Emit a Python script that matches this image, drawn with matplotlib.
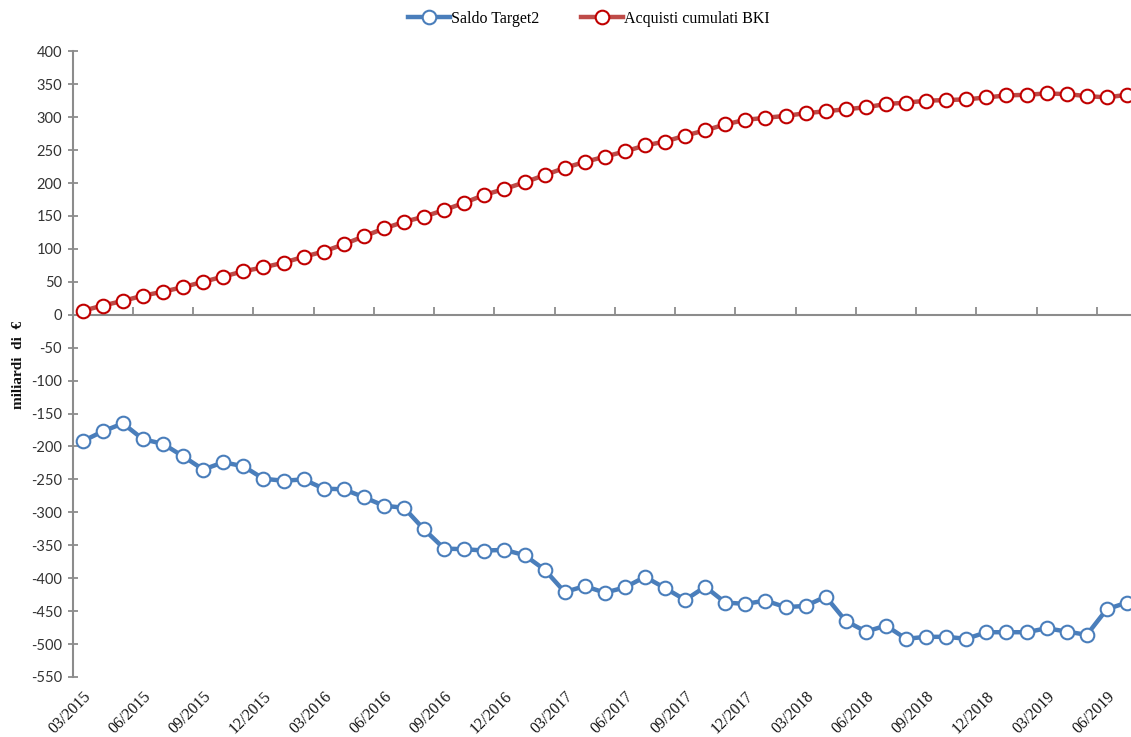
import matplotlib
matplotlib.use("Agg")
import matplotlib.pyplot as plt
import numpy as np

# Monthly observations, 03/2015 .. 07/2019 (billions of euro)
months = [f"{m:02d}/{y}" for y in range(2015, 2020) for m in range(1, 13)][2:55]

saldo_target2 = [
    -192, -177, -165, -189, -196, -215, -235, -224, -230, -249,
    -252, -250, -264, -265, -277, -290, -293, -326, -355, -356,
    -358, -357, -365, -387, -421, -412, -422, -414, -398, -415,
    -433, -413, -437, -439, -434, -444, -442, -428, -465, -481,
    -472, -492, -489, -489, -492, -482, -482, -482, -476, -481,
    -486, -447, -437,
]

acquisti_bki = [
    6, 14, 21, 29, 35, 42, 50, 58, 66, 72,
    79, 88, 96, 107, 119, 131, 141, 149, 159, 170,
    182, 191, 201, 212, 223, 232, 240, 248, 257, 263,
    272, 280, 289, 296, 299, 302, 306, 309, 312, 315,
    320, 322, 325, 326, 327, 330, 333, 334, 336, 335,
    332, 330, 334,
]

y_ticks = list(range(-550, 401, 50))

BLUE = "#4A7EBB"
RED_LINE = "#BE4B48"
RED_EDGE = "#C00000"
AXIS_GRAY = "#8C8C8C"

W, H, DPI = 1131, 737, 100
fig = plt.figure(figsize=(W / DPI, H / DPI), dpi=DPI)

left = 72.7 / W
right = 1137.0 / W
top = 1 - 51.3 / H
bottom = 1 - 677.0 / H
ax = fig.add_axes([left, bottom, right - left, top - bottom])

x = np.arange(len(months))

ax.plot(x, saldo_target2, color=BLUE, lw=3.2, marker="o", ms=9.8,
        mfc="white", mec=BLUE, mew=1.5, label="Saldo Target2",
        solid_joinstyle="round", zorder=3)
ax.plot(x, acquisti_bki, color=RED_LINE, lw=3.2, marker="o", ms=9.8,
        mfc="white", mec=RED_EDGE, mew=1.5, label="Acquisti cumulati BKI",
        solid_joinstyle="round", zorder=3)

ax.set_xlim(-0.5, len(months) - 0.5)
ax.set_ylim(-550, 400)

# y axis
for s in ("top", "right", "bottom"):
    ax.spines[s].set_visible(False)
ax.spines["left"].set_color(AXIS_GRAY)
ax.spines["left"].set_linewidth(1.5)
ax.set_yticks(y_ticks)
ax.set_yticklabels([str(v) for v in y_ticks], family="Lato", fontsize=10.5,
                   color="#333333")
ax.tick_params(axis="y", direction="inout", length=7.5, width=1.3,
               color=AXIS_GRAY, pad=4)

# category labels along the bottom, every third month
label_idx = list(range(0, len(months), 3))
ax.set_xticks(label_idx)
ax.set_xticklabels([months[i] for i in label_idx], rotation=45, ha="right",
                   va="top", rotation_mode="anchor", family="Liberation Serif",
                   fontsize=11.5, color="#111111")
ax.tick_params(axis="x", length=0, pad=8)

# horizontal category axis drawn through zero, ticks between categories
zero_frac = (0 - (-550)) / (400 - (-550))
sec = ax.secondary_xaxis(zero_frac)
for sp in sec.spines.values():
    sp.set_color(AXIS_GRAY)
    sp.set_linewidth(1.5)
sec.set_xticks(np.arange(2.5, len(months), 3))
sec.set_xticklabels([])
sec.tick_params(axis="x", which="both", direction="out", length=6, width=1.3,
                color=AXIS_GRAY)

fig.text(0.016, 1 - 365 / H, "miliardi  di  €", rotation=90, ha="center",
         va="center", family="Liberation Serif", fontweight="bold",
         fontsize=11, color="#111111")

fig.legend(loc="center", bbox_to_anchor=(589 / W, 1 - 19 / H), ncol=2,
           frameon=False, prop={"family": "Liberation Serif", "size": 11.5},
           handlelength=2.6, handletextpad=0.1, columnspacing=2.6)

fig.savefig("out.png", dpi=DPI)
